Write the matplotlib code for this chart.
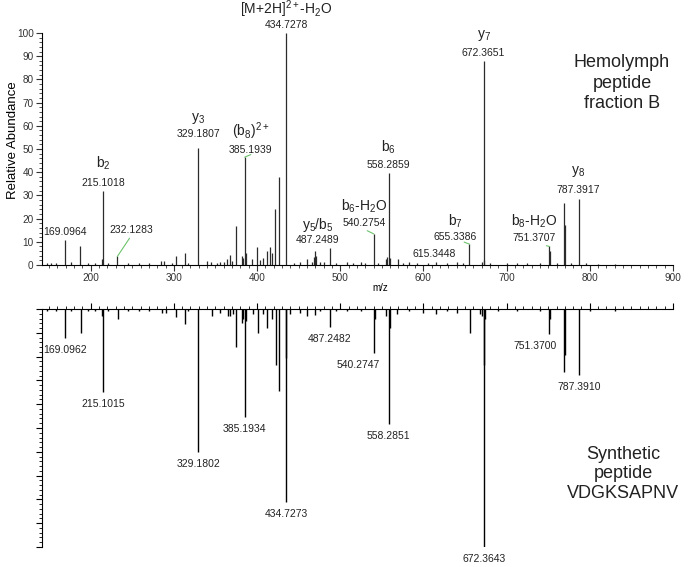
import matplotlib
matplotlib.use("Agg")
import matplotlib.pyplot as plt
import numpy as np

plt.rcParams["font.family"] = ["Liberation Sans", "DejaVu Sans"]
plt.rcParams["mathtext.fontset"] = "custom"
plt.rcParams["mathtext.rm"] = "Liberation Sans"
plt.rcParams["mathtext.it"] = "Liberation Sans:italic"

# top spectrum: hemolymph peptide fraction B (m/z, relative abundance)
top_mz = [147, 152, 158, 169.0964, 176, 187.1, 197, 205, 213.1, 215.1018, 221,
          232.1283, 245, 258, 270, 285.1, 288.1, 298, 302.2, 313.2, 317,
          329.1807, 340, 345, 352, 356, 360, 364, 367.2, 370, 375.2, 382.2,
          383.2, 385.1939, 386.2, 394, 400.2, 403, 407.2, 412.2, 415.5, 418.5,
          421.3, 426.5, 434.7278, 445, 452, 460.2, 466, 468.3, 469.3, 471,
          476, 480, 487.2489, 495, 508, 515, 525, 530, 540.2754, 545, 555.3,
          556.3, 558.2859, 559.3, 569.3, 575, 583, 592, 605, 615.3448, 628,
          640, 648, 655.3386, 670.3, 672.3651, 673.4, 680, 700, 712, 725,
          740, 751.3707, 752.4, 760, 769.4, 770.4, 777, 787.3917, 795, 810,
          830]
top_int = [1.0, 0.8, 1.0, 10.9, 1.2, 8.0, 0.8, 1.0, 2.7, 32.0, 0.8,
           3.7, 1.0, 0.8, 1.0, 1.6, 1.6, 1.0, 3.7, 5.3, 1.0,
           50.5, 1.8, 1.2, 1.0, 1.2, 1.5, 2.5, 4.5, 1.8, 17.0, 3.7,
           3.0, 46.5, 5.0, 2.8, 7.8, 2.0, 3.0, 6.0, 7.8, 5.0,
           24.0, 38.0, 100.0, 1.0, 1.2, 2.8, 1.5, 3.5, 6.0, 4.0,
           1.2, 1.5, 7.5, 1.0, 1.2, 1.0, 1.3, 1.0, 13.4, 1.0, 2.8,
           3.5, 39.5, 3.0, 2.5, 1.0, 1.5, 1.0, 1.0, 1.5, 1.0,
           1.2, 1.0, 9.0, 1.5, 87.8, 2.0, 1.0, 1.0, 0.8, 1.0,
           1.0, 8.0, 6.0, 0.8, 26.7, 17.4, 1.0, 28.6, 0.8, 0.6,
           0.6]

# bottom spectrum: synthetic peptide VDGKSAPNV (drawn downwards)
bot_mz = [147, 158, 169.0962, 176, 188.1, 197, 205, 213.1, 215.1015, 221,
          233.1, 245, 258, 270, 286.1, 290.1, 302.2, 313.6, 317, 329.1802,
          346, 356, 365, 368, 371, 375.2, 382.5, 383.5, 385.1934, 386.2, 395,
          401.2, 407, 412.3, 418.5, 422.2, 426.9, 434.7273, 435.2, 440, 452,
          459.6, 469.8, 476, 487.2482, 495, 508, 525, 540.2747, 542.3, 555.3,
          558.2851, 559.3, 568.5, 583, 600, 615.3, 628, 640, 655.4, 668,
          670.3, 672.3643, 673.4, 674.4, 690, 712, 740, 751.37, 752.4, 769.4,
          770.4, 787.391, 800, 830]
bot_int = [1.0, 1.0, 12.0, 1.0, 10.2, 1.0, 1.0, 3.0, 34.7, 1.0,
           4.2, 1.0, 1.0, 1.0, 1.7, 1.7, 3.2, 6.4, 1.0, 60.0,
           3.0, 1.5, 3.0, 3.0, 2.0, 15.8, 6.0, 4.0, 45.5, 5.0, 2.0,
           10.2, 2.0, 8.1, 4.0, 23.5, 34.5, 81.0, 20.6, 2.0, 1.5,
           3.0, 2.4, 1.0, 7.7, 1.0, 1.0, 1.0, 18.6, 4.0, 3.0,
           48.4, 8.0, 2.0, 1.0, 1.5, 2.0, 1.0, 1.5, 10.2, 2.0,
           3.0, 100.0, 23.5, 4.0, 1.0, 1.0, 1.0, 10.6, 4.0, 26.3,
           19.3, 27.7, 1.0, 1.0]

# annotated top peaks
top_lab_mz = [169.0964, 215.1018, 232.1283, 329.1807, 385.1939, 434.7278,
              487.2489, 540.2754, 558.2859, 615.3448, 655.3386, 672.3651,
              751.3707, 787.3917]
top_ions = ["", "b$_2$", "", "y$_3$", "(b$_8$)$^{2+}$",
            "[M+2H]$^{2+}$-H$_2$O", "y$_5$/b$_5$", "b$_6$-H$_2$O", "b$_6$",
            "", "b$_7$", "y$_7$", "b$_8$-H$_2$O", "y$_8$"]

# annotated bottom peaks
bot_lab_mz = [169.0962, 215.1015, 329.1802, 385.1934, 434.7273, 487.2482,
              540.2747, 558.2851, 672.3643, 751.37, 787.391]
bot_lab_txt = ["169.0962", "215.1015", "329.1802", "385.1934", "434.7273",
               "487.2482", "540.2747", "558.2851", "672.3643", "751.3700",
               "787.3910"]

# label offsets in pixels from the peak top: (dx, dy number, dy ion)
top_off = {169.0964: (0, 8, 0), 215.1018: (0, 7.5, 27), 232.1283: (14, 26, 0),
           329.1807: (0, 14, 29), 385.1939: (6, 7.5, 25.5),
           434.7278: (0, 7.5, 23.5), 487.2489: (-12, 8, 23),
           540.2754: (-10, 11, 28), 558.2859: (0, 8.5, 26.5),
           615.3448: (-2, 8, 0), 655.3386: (-14, 7, 23),
           672.3651: (0, 8.5, 26), 751.3707: (-15, 8.5, 25),
           787.3917: (-1, 9, 27.5)}
leaders = {232.1283: (0.5, 0), 385.1939: (0.5, 0), 540.2754: (0.45, 0),
           655.3386: (0.7, 0), 751.3707: (0.52, 0)}
bot_dx = {540.2747: -16, 751.37: -14}

W, H = 689, 567
fig = plt.figure(figsize=(W / 100, H / 100), dpi=100)
ax1 = fig.add_axes([42 / W, 1 - 265 / H, 631 / W, 232 / H])
ax2 = fig.add_axes([42 / W, 1 - 547 / H, 631 / W, 238 / H])

green = "#6cc36c"

# top spectrum
ax1.vlines(top_mz, 0, top_int, color="#2b2b2b", lw=0.9)
ax1.set_xlim(141.5, 900)
ax1.set_ylim(0, 100)
for s in ["top", "right"]:
    ax1.spines[s].set_visible(False)
ax1.spines["left"].set_linewidth(0.8)
ax1.spines["bottom"].set_linewidth(0.8)
ax1.set_xticks(np.arange(200, 901, 100))
ax1.set_xticks(np.arange(150, 901, 10), minor=True)
ax1.set_yticks(np.arange(0, 101, 10))
ax1.set_yticks(np.arange(0, 101, 2), minor=True)
ax1.tick_params(which="major", length=4, width=0.8, labelsize=7.2, pad=2,
                colors="#333333")
ax1.tick_params(which="minor", length=2.5, width=0.6, colors="#333333")
ax1.set_ylabel("Relative Abundance", fontsize=9.5)
ax1.yaxis.set_label_coords(-0.0365, 0.54)
ax1.set_xlabel("m/z", fontsize=7)
ax1.xaxis.set_label_coords(0.536, -0.078)

for mz, ion in zip(top_lab_mz, top_ions):
    h = top_int[top_mz.index(mz)]
    dx, dy, dyi = top_off[mz]
    kw = {}
    if mz in leaders:
        kw["arrowprops"] = dict(arrowstyle="-", color=green, lw=0.8,
                                shrinkA=0, shrinkB=0,
                                relpos=leaders[mz])
    ax1.annotate(f"{mz:.4f}", xy=(mz, h), xytext=(dx, dy),
                 textcoords="offset pixels", ha="center", va="center",
                 fontsize=7.5, color="#222222", annotation_clip=False, **kw)
    if ion:
        ax1.annotate(ion, xy=(mz, h), xytext=(dx, dyi),
                     textcoords="offset pixels", ha="center", va="center",
                     fontsize=10, color="#222222", annotation_clip=False)

# bottom spectrum
ax2.vlines(bot_mz, 0, -np.array(bot_int), color="black", lw=1.0)
ax2.set_xlim(141.5, 900)
ax2.set_ylim(-100, 0)
for s in ["bottom", "right"]:
    ax2.spines[s].set_visible(False)
ax2.spines["left"].set_linewidth(0.8)
ax2.spines["top"].set_linewidth(0.8)
ax2.xaxis.tick_top()
ax2.set_xticks(np.arange(200, 901, 100))
ax2.set_xticks(np.arange(150, 901, 10), minor=True)
ax2.set_yticks(np.arange(-100, 1, 10))
ax2.set_yticks(np.arange(-100, 1, 2), minor=True)
ax2.tick_params(which="both", labeltop=False, labelleft=False,
                labelbottom=False)
ax2.tick_params(which="major", length=4, width=0.8)
ax2.tick_params(which="minor", length=2.5, width=0.6)

for mz, txt in zip(bot_lab_mz, bot_lab_txt):
    h = bot_int[bot_mz.index(mz)]
    ax2.annotate(txt, xy=(mz, -h), xytext=(bot_dx.get(mz, 0), -12),
                 textcoords="offset pixels", ha="center", va="center",
                 fontsize=7.5, color="#222222", annotation_clip=False)

fig.text(622 / W, 1 - 83 / H, "Hemolymph\npeptide\nfraction B",
         ha="center", va="center", fontsize=13, linespacing=1.3,
         color="#222222")
fig.text(623 / W, 1 - 474 / H, "Synthetic\npeptide\nVDGKSAPNV",
         ha="center", va="center", fontsize=13, linespacing=1.2,
         color="#222222")

fig.savefig("out.png", dpi=100)
